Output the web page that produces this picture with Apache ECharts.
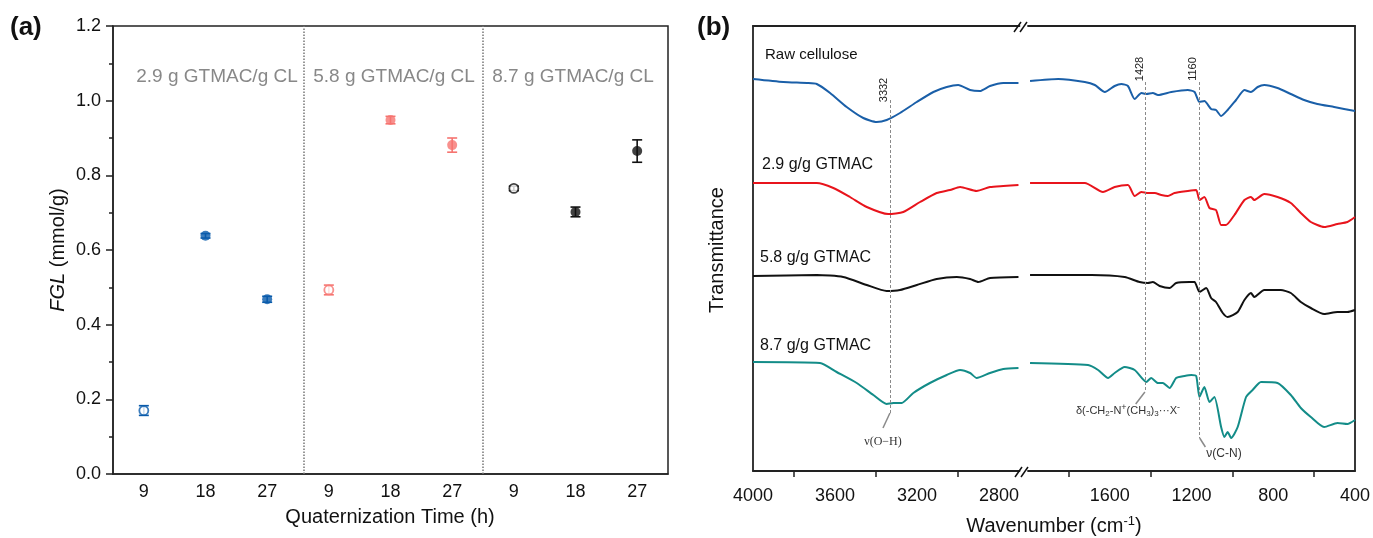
<!DOCTYPE html>
<html><head><meta charset="utf-8">
<script src="https://cdn.jsdelivr.net/npm/echarts@6/dist/echarts.min.js"></script>
<style>html,body{margin:0;padding:0;background:#fff}#c{width:1373px;height:538px}</style>
</head><body><div id="c"></div><script>
// ---------- Panel (a) data ----------
const timeLabels = ['9','18','27','9','18','27','9','18','27'];
const groupLabels = ['2.9 g GTMAC/g CL','5.8 g GTMAC/g CL','8.7 g GTMAC/g CL'];
const fglValues = [0.170,0.638,0.468,0.493,0.948,0.881,0.765,0.702,0.865];
const fglErrors = [0.013,0.006,0.008,0.013,0.010,0.019,0.006,0.013,0.030];
const groupColors = ['#0a5bab','#f67470','#111111'];
const separators = [3.1, 6.0];

// ---------- Panel (b) data: [wavenumber, offset transmittance] ----------
const sampleNames = ['Raw cellulose','2.9 g/g GTMAC','5.8 g/g GTMAC','8.7 g/g GTMAC'];
const sampleColors = ['#1a5fa8','#e8141c','#111111','#138c88'];
const rawHigh = [[4000,392],[3852,389],[3736,388],[3689,387],[3624,378],[3543,364],[3462,353],[3397,349],[3348,351],[3283,358],[3201,369],[3120,379],[3055,384],[2999,386],[2941,381],[2893,380],[2844,385],[2779,388],[2705,388]];
const rawLow = [[1990,390],[1852,392],[1722,389],[1673,386],[1624,379],[1576,385],[1543,387],[1511,385],[1478,372],[1445,378],[1421,377],[1389,378],[1364,376],[1299,379],[1218,381],[1185,379],[1161,369],[1137,370],[1104,362],[1080,361],[1055,355],[1023,361],[982,371],[941,381],[909,379],[876,384],[844,386],[779,383],[714,377],[649,371],[584,367],[502,364],[400,360]];
const g29High = [[4000,288],[3689,288],[3608,283],[3527,274],[3445,264],[3340,257],[3267,259],[3185,269],[3104,278],[3039,281],[2990,284],[2909,280],[2844,284],[2779,285],[2705,286]];
const g29Low = [[1990,288],[1722,288],[1633,279],[1576,284],[1511,286],[1478,275],[1445,279],[1413,278],[1380,278],[1348,276],[1316,275],[1283,278],[1218,280],[1177,281],[1161,271],[1137,274],[1112,263],[1080,261],[1055,246],[1031,246],[990,256],[941,271],[909,274],[893,271],[844,277],[779,274],[714,268],[665,258],[616,249],[551,244],[486,247],[437,249],[400,254]];
const g58High = [[4000,195],[3689,196],[3560,194],[3445,186],[3348,180],[3283,181],[3201,186],[3104,192],[3006,194],[2941,192],[2901,189],[2844,193],[2705,194]];
const g58Low = [[1990,196],[1689,196],[1527,194],[1454,189],[1413,188],[1389,189],[1356,185],[1307,183],[1275,188],[1210,189],[1185,189],[1161,179],[1128,183],[1104,173],[1080,169],[1047,158],[1023,154],[974,159],[941,171],[909,178],[893,174],[844,181],[763,181],[714,178],[665,169],[616,163],[551,157],[486,159],[437,159],[400,161]];
const g87High = [[4000,109],[3673,108],[3592,99],[3494,88],[3413,76],[3348,67],[3316,68],[3275,68],[3218,78],[3137,88],[3055,96],[2990,101],[2941,98],[2909,93],[2844,98],[2779,102],[2705,103]];
const g87Low = [[1990,108],[1706,106],[1657,101],[1608,93],[1576,98],[1527,104],[1478,101],[1421,89],[1397,93],[1364,88],[1340,88],[1307,83],[1275,93],[1234,95],[1201,96],[1177,95],[1161,74],[1137,84],[1112,69],[1088,74],[1055,44],[1039,34],[1023,39],[1006,33],[974,44],[933,74],[901,81],[860,89],[779,88],[714,76],[665,63],[616,54],[551,44],[486,48],[437,47],[400,51]];
const highLabels = [4000,3600,3200,2800];
const highTicks = [3800,3400,3000];
const lowLabels = [1600,1200,800,400];
const lowTicks = [1800,1400,1000,600];

const FONT = "'Liberation Sans', Arial, sans-serif";
const AX = '#222';

const chart = echarts.init(document.getElementById('c'), null, {renderer:'canvas'});

const openData = [], fillData = [], errData = [];
fglValues.forEach((v,i)=>{
  const g = Math.floor(i/3), c = groupColors[g];
  const item = {value:[i,v], itemStyle: i%3===0 ? {color:'#fff', borderColor:c, borderWidth:1.8} : {color:c, borderColor:c, borderWidth:0}};
  (i%3===0 ? openData : fillData).push(item);
  errData.push([i, v, fglErrors[i]]);
});

function lineSeries(data, color, xi, yi, extra) {
  return Object.assign({type:'line', xAxisIndex:xi, yAxisIndex:yi, data, symbol:'none', smooth:0.2,
    lineStyle:{color, width:2}, itemStyle:{color}, z:3, silent:true}, extra||{});
}
const dashStyle = {color:'#8a8a8a', width:1, type:[3,2]};
const leadStyle = {color:'#8a8a8a', width:1.5, type:'solid'};

const highSets = [rawHigh, g29High, g58High, g87High];
const lowSets = [rawLow, g29Low, g58Low, g87Low];
const seriesB = [];
highSets.forEach((d,k)=>{
  const extra = k===0 ? {markLine:{silent:true, symbol:['none','none'], label:{show:false}, animation:false,
    data:[
      [{coord:[3332,371], lineStyle:dashStyle},{coord:[3332,58]}],
      [{coord:[3332,58], lineStyle:leadStyle},{coord:[3366,43]}]
    ]}} : {};
  seriesB.push(lineSeries(d, sampleColors[k], 2, 1, extra));
});
lowSets.forEach((d,k)=>{
  const extra = k===0 ? {markLine:{silent:true, symbol:['none','none'], label:{show:false}, animation:false,
    data:[
      [{coord:[1428,389], lineStyle:dashStyle},{coord:[1428,79]}],
      [{coord:[1428,79], lineStyle:leadStyle},{coord:[1473,67]}],
      [{coord:[1160,389], lineStyle:dashStyle},{coord:[1160,33]}],
      [{coord:[1160,33], lineStyle:leadStyle},{coord:[1132,24]}]
    ]}} : {};
  seriesB.push(lineSeries(d, sampleColors[k], 4, 2, extra));
});

function txt(x,y,text,opt){
  return {type:'text', x, y, rotation: (opt&&opt.rot)||0, silent:true, z:20,
    style:Object.assign({text, fill:'#111', font:`16px ${FONT}`, textAlign:'left', textVerticalAlign:'middle'}, (opt&&opt.style)||{})};
}
function brk(x,y){
  return [
    {type:'line', silent:true, z:20, shape:{x1:x, y1:y+5, x2:x+7, y2:y-5}, style:{stroke:'#111', lineWidth:1.5}},
    {type:'line', silent:true, z:20, shape:{x1:x+6, y1:y+5, x2:x+13, y2:y-5}, style:{stroke:'#111', lineWidth:1.5}}
  ];
}

const graphics = [
  txt(10,28,'(a)',{style:{font:`bold 26px ${FONT}`}}),
  txt(697,28,'(b)',{style:{font:`bold 26px ${FONT}`}}),
  txt(217,77,groupLabels[0],{style:{fill:'#888',font:`19px ${FONT}`,textAlign:'center'}}),
  txt(394,77,groupLabels[1],{style:{fill:'#888',font:`19px ${FONT}`,textAlign:'center'}}),
  txt(573,77,groupLabels[2],{style:{fill:'#888',font:`19px ${FONT}`,textAlign:'center'}}),
  txt(58,250,'{i|FGL} (mmol/g)',{rot:Math.PI/2, style:{font:`20px ${FONT}`, textAlign:'center',
     rich:{i:{fontStyle:'italic', font:`italic 20px ${FONT}`, fill:'#111'}}}}),
  txt(390,517,'Quaternization Time (h)',{style:{font:`20px ${FONT}`, textAlign:'center'}}),
  txt(717,250,'Transmittance',{rot:Math.PI/2, style:{font:`20px ${FONT}`, textAlign:'center'}}),
  txt(1054,526,'Wavenumber (cm{s|-1})',{style:{font:`20px ${FONT}`, textAlign:'center',
     rich:{s:{font:`13px ${FONT}`, fill:'#111', verticalAlign:'top', padding:[0,0,10,0]}}}}),
  txt(765,55,sampleNames[0],{style:{font:`15px ${FONT}`}}),
  txt(762,165,sampleNames[1],{style:{font:`16px ${FONT}`}}),
  txt(760,258,sampleNames[2],{style:{font:`16px ${FONT}`}}),
  txt(760,346,sampleNames[3],{style:{font:`16px ${FONT}`}}),
  txt(884,90,'3332',{rot:Math.PI/2, style:{font:`11px ${FONT}`, textAlign:'center', fill:'#222'}}),
  txt(1140,69,'1428',{rot:Math.PI/2, style:{font:`11px ${FONT}`, textAlign:'center', fill:'#222'}}),
  txt(1193,69,'1160',{rot:Math.PI/2, style:{font:`11px ${FONT}`, textAlign:'center', fill:'#222'}}),
  txt(883,442,'ν(O−H)',{style:{font:`12px 'Liberation Serif','DejaVu Serif',serif`, textAlign:'center', fill:'#333'}}),
  txt(1224,454,'ν(C-N)',{style:{font:`12px ${FONT}`, textAlign:'center', fill:'#333'}}),
  txt(1128,411,'δ(-CH{b|2}-N{t|+}(CH{b|3}){b|3}···X{t|-}',{style:{font:`11px ${FONT}`, textAlign:'center', fill:'#333',
     rich:{b:{font:`8px ${FONT}`, fill:'#333', padding:[6,0,0,0]}, t:{font:`9px ${FONT}`, fill:'#333', padding:[0,0,6,0]}}}}),
  ...brk(1014,27), ...brk(1015,472)
];

const plain = v => String(v);

const option = {
  animation:false,
  backgroundColor:'#fff',
  grid:[
    {left:113, top:26, width:555, height:448, show:true, borderColor:AX, borderWidth:1.5, backgroundColor:'transparent'},
    {left:753, top:26, width:266.5, height:445},
    {left:1028, top:26, width:328, height:445}
  ],
  xAxis:[
    {gridIndex:0, type:'category', data:timeLabels, boundaryGap:true,
     axisLine:{lineStyle:{color:AX, width:1.5}}, axisTick:{alignWithLabel:true, length:6, lineStyle:{color:AX, width:1.5}},
     axisLabel:{color:'#111', fontSize:18, fontFamily:FONT, margin:9}, splitLine:{show:false}},
    {gridIndex:0, type:'value', min:0, max:9, show:false},
    {gridIndex:1, type:'value', min:2700, max:4000, inverse:true,
     axisLine:{lineStyle:{color:AX, width:1.8}},
     axisTick:{show:true, length:6, customValues:highTicks, lineStyle:{color:AX, width:1.5}},
     axisLabel:{customValues:highLabels, formatter:plain, color:'#111', fontSize:18, fontFamily:FONT, margin:16},
     splitLine:{show:false}},
    {gridIndex:1, type:'value', min:2700, max:4000, inverse:true, position:'top',
     axisLine:{lineStyle:{color:AX, width:1.8}}, axisTick:{show:false}, axisLabel:{show:false}, splitLine:{show:false}},
    {gridIndex:2, type:'value', min:400, max:2000, inverse:true,
     axisLine:{lineStyle:{color:AX, width:1.8}},
     axisTick:{show:true, length:6, customValues:lowTicks, lineStyle:{color:AX, width:1.5}},
     axisLabel:{customValues:lowLabels, formatter:plain, color:'#111', fontSize:18, fontFamily:FONT, margin:16},
     splitLine:{show:false}},
    {gridIndex:2, type:'value', min:400, max:2000, inverse:true, position:'top',
     axisLine:{lineStyle:{color:AX, width:1.8}}, axisTick:{show:false}, axisLabel:{show:false}, splitLine:{show:false}}
  ],
  yAxis:[
    {gridIndex:0, type:'value', min:0, max:1.2, interval:0.2,
     axisLine:{show:true, lineStyle:{color:AX, width:1.5}},
     axisTick:{show:true, length:7, lineStyle:{color:AX, width:1.5}},
     minorTick:{show:true, splitNumber:2, length:4, lineStyle:{color:AX, width:1.5}},
     axisLabel:{color:'#111', fontSize:18, fontFamily:FONT, margin:12, formatter:v=>v.toFixed(1)},
     splitLine:{show:false}},
    {gridIndex:1, type:'value', min:0, max:445,
     axisLine:{show:true, lineStyle:{color:AX, width:1.8}}, axisTick:{show:false}, axisLabel:{show:false}, splitLine:{show:false}},
    {gridIndex:2, type:'value', min:0, max:445, position:'right',
     axisLine:{show:true, lineStyle:{color:AX, width:1.8}}, axisTick:{show:false}, axisLabel:{show:false}, splitLine:{show:false}}
  ],
  series:[
    {type:'scatter', xAxisIndex:1, yAxisIndex:0, data:[[0,-1]], symbolSize:0, silent:true,
     markLine:{silent:true, symbol:['none','none'], label:{show:false}, animation:false,
       lineStyle:{color:'#777', width:1.5, type:'dotted'},
       data:separators.map(s=>({xAxis:s}))}},
    {type:'custom', xAxisIndex:0, yAxisIndex:0, data:errData, encode:{x:0, y:1}, z:2, silent:true,
     renderItem:function(params, api){
       const i = api.value(0), v = api.value(1), e = api.value(2);
       const t = api.coord([i, v+e]), b = api.coord([i, v-e]);
       const c = groupColors[Math.floor(i/3)];
       const st = {stroke:c, lineWidth:1.6};
       const hw = 5;
       return {type:'group', children:[
         {type:'line', shape:{x1:t[0], y1:t[1], x2:b[0], y2:b[1]}, style:st},
         {type:'line', shape:{x1:t[0]-hw, y1:t[1], x2:t[0]+hw, y2:t[1]}, style:st},
         {type:'line', shape:{x1:b[0]-hw, y1:b[1], x2:b[0]+hw, y2:b[1]}, style:st}
       ]};
     }},
    {type:'scatter', xAxisIndex:0, yAxisIndex:0, data:openData, symbol:'circle', symbolSize:9, z:3, silent:true},
    {type:'scatter', xAxisIndex:0, yAxisIndex:0, data:fillData, symbol:'circle', symbolSize:10, z:3, silent:true},
    ...seriesB
  ],
  graphic:graphics
};
chart.setOption(option);
</script></body></html>
